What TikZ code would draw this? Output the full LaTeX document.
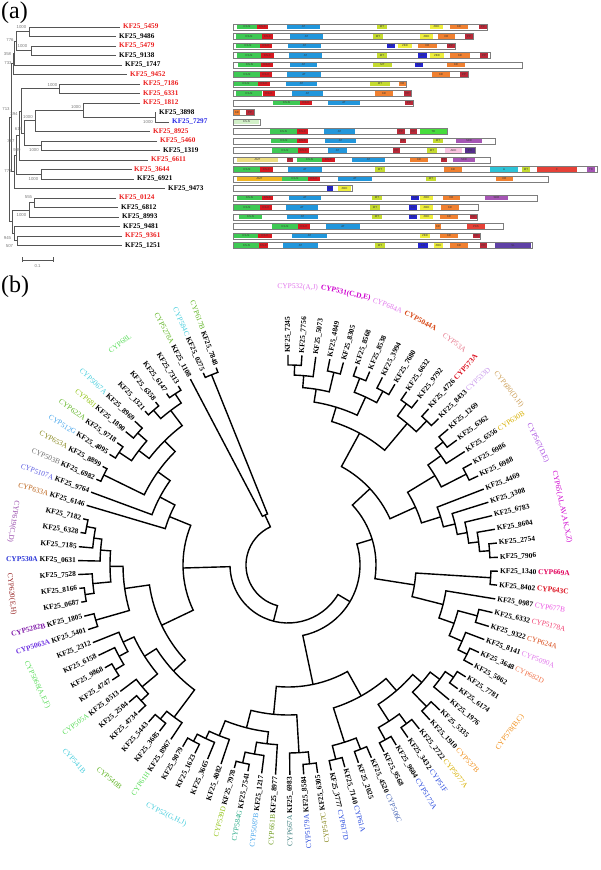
\documentclass[tikz,border=0pt]{standalone}
\usepackage{fontspec}
\setmainfont{Liberation Serif}
\newfontfamily\numfont{Liberation Sans}
\usepackage{xcolor}
% panel (a)
\definecolor{ARed}{RGB}{235,30,30}
\definecolor{ABlue}{RGB}{40,40,230}
\definecolor{TreeGray}{RGB}{85,85,85}
\definecolor{BootGray}{RGB}{120,120,120}
\definecolor{BarGray}{RGB}{125,125,125}
\definecolor{KSN}{RGB}{62,201,84}
\definecolor{KSC}{RGB}{214,24,32}
\definecolor{ATd}{RGB}{33,150,219}
\definecolor{MTd}{RGB}{197,219,47}
\definecolor{ZBD}{RGB}{238,238,60}
\definecolor{KRd}{RGB}{240,128,48}
\definecolor{PPd}{RGB}{185,40,55}
\definecolor{AOd}{RGB}{35,35,205}
\definecolor{PUd}{RGB}{165,85,180}
\definecolor{AMTa}{RGB}{238,222,130}
\definecolor{AMTb}{RGB}{240,180,35}
\definecolor{COX}{RGB}{210,240,200}
\definecolor{GRd}{RGB}{70,220,60}
\definecolor{ADH}{RGB}{250,195,225}
\definecolor{DPU}{RGB}{85,45,140}
\definecolor{CYd}{RGB}{45,195,215}
\definecolor{RDd}{RGB}{230,65,55}
\definecolor{SLd}{RGB}{95,65,165}
% panel (b)
\definecolor{cPinkV}{RGB}{225,120,235}
\definecolor{cMag}{RGB}{205,0,205}
\definecolor{cOrRed}{RGB}{215,70,20}
\definecolor{cRose}{RGB}{230,120,140}
\definecolor{cRed}{RGB}{220,15,30}
\definecolor{cLilac}{RGB}{200,150,235}
\definecolor{cTan}{RGB}{205,160,90}
\definecolor{cGold}{RGB}{215,175,0}
\definecolor{cPurp}{RGB}{170,80,225}
\definecolor{cCrim}{RGB}{225,0,90}
\definecolor{cPink}{RGB}{235,80,225}
\definecolor{cPkRed}{RGB}{240,60,110}
\definecolor{cSalm}{RGB}{240,115,75}
\definecolor{cOrange}{RGB}{240,140,20}
\definecolor{cBlue}{RGB}{35,70,220}
\definecolor{cSteel}{RGB}{70,100,180}
\definecolor{cOlive}{RGB}{135,135,30}
\definecolor{cTeal}{RGB}{60,125,125}
\definecolor{cOlGr}{RGB}{110,155,30}
\definecolor{cLBlue}{RGB}{70,165,235}
\definecolor{cTealG}{RGB}{40,170,135}
\definecolor{cYGr}{RGB}{145,195,20}
\definecolor{cCyan}{RGB}{70,205,220}
\definecolor{cLGreen}{RGB}{90,220,90}
\definecolor{cGreen}{RGB}{95,180,35}
\definecolor{cViol}{RGB}{110,50,225}
\definecolor{cDPurp}{RGB}{130,30,170}
\definecolor{cDRed}{RGB}{150,35,35}
\definecolor{cBlueB}{RGB}{40,50,215}
\definecolor{cPlum}{RGB}{150,70,170}
\definecolor{cBrown}{RGB}{185,95,20}
\definecolor{cBViol}{RGB}{90,90,225}
\definecolor{cGray}{RGB}{110,110,110}
\usepackage{tikz}

\tikzset{
  treea/.style={draw=TreeGray, line width=0.6pt},
  treeb/.style={draw=black, line width=1.4pt},
  boot/.style={font=\numfont\fontsize{4.3}{5}\selectfont, text=BootGray, inner sep=0pt},
  leafa/.style={font=\bfseries\fontsize{7.2}{8}\selectfont, anchor=west, inner sep=0pt},
  leaf/.style={font=\fontsize{7.4}{8}\selectfont, inner sep=0pt},
  grp/.style={font=\fontsize{7.4}{8}\selectfont, inner sep=0pt},
  protein/.style={draw=BarGray, fill=white, line width=0.9pt},
  domtxt/.style={font=\numfont\fontsize{2.8}{3}\selectfont, text=black!80, inner sep=0pt},
  panel/.style={font=\fontsize{24}{24}\selectfont, anchor=west, inner sep=0pt}
}

\newcounter{dm}
\newcommand{\protbar}[2]{\draw[protein] (233,#2-3) rectangle (#1,#2+3);}
\newcommand{\dom}[5]{\stepcounter{dm}\fill[#4] (#1,#3-2.4) rectangle (#2,#3+2.4);
  \node[domtxt] (dm\arabic{dm}) at ({(#1+#2)/2},#3) {#5};}
\newcommand{\clade}[5]{\draw[treeb] (#1:#4pt) -- (#1:#3pt) arc[start angle=#1, end angle=#2, radius=#3pt] -- (#2:#5pt);}
\newcommand{\leafR}[4]{\node[leaf, anchor=west, rotate=#1] (k#2) at (#1:212pt) {\textbf{KF25\_#2}\ \textcolor{#4}{#3}};}
\newcommand{\leafL}[4]{\node[leaf, anchor=east, rotate=#1+180] (k#2) at (#1:212pt) {\textcolor{#4}{#3}\ \textbf{KF25\_#2}};}

\begin{document}
\begin{tikzpicture}[x=1pt, y=1pt]
	\useasboundingbox (0,0) rectangle (600,870);

	\begin{scope}[yshift=870pt, y=-1pt]
		% Panel labels
		\node[panel] (pa) at (1,13) {(a)};
		\node[panel] (pb) at (1,287) {(b)};

		% Lines
		\draw[treea] (120,27) -- (29,27) -- (29,36.5) -- (116,36.5);
		\draw[treea] (116,46) -- (31,46) -- (31,55.5) -- (116,55.5);
		\draw[treea] (29,31.75) -- (16,31.75) -- (16,50.75) -- (31,50.75);
		\draw[treea] (16,41.25) -- (14.5,41.25) -- (14.5,65) -- (122,65);
		\draw[treea] (14.5,53.1) -- (13,53.1) -- (13,74.5) -- (127,74.5);
		\draw[treea] (140,84) -- (59,84) -- (59,93.5) -- (140,93.5);
		\draw[treea] (156,112.5) -- (155,112.5) -- (155,122) -- (169,122);
		\draw[treea] (140,103) -- (83,103) -- (83,117.25) -- (155,117.25);
		\draw[treea] (83,110.1) -- (35,110.1) -- (35,131.5) -- (150,131.5);
		\draw[treea] (157,141) -- (41,141) -- (41,150.5) -- (160,150.5);
		\draw[treea] (35,120.8) -- (24,120.8) -- (24,145.75) -- (41,145.75);
		\draw[treea] (59,88.75) -- (21,88.75) -- (21,133.3) -- (24,133.3);
		\draw[treea] (21,111) -- (19,111) -- (19,160) -- (148,160);
		\draw[treea] (132,169.5) -- (41,169.5) -- (41,179) -- (134,179);
		\draw[treea] (19,135.5) -- (16,135.5) -- (16,174.25) -- (41,174.25);
		\draw[treea] (16,154.9) -- (14,154.9) -- (14,188.5) -- (165,188.5);
		\draw[treea] (13,63.8) -- (11,63.8) -- (11,171.7) -- (14,171.7);
		\draw[treea] (116,198) -- (34,198) -- (34,207.5) -- (118,207.5);
		\draw[treea] (34,202.75) -- (29,202.75) -- (29,217) -- (119,217);
		\draw[treea] (122,236) -- (17,236) -- (17,245.5) -- (122,245.5);
		\draw[treea] (120,226.5) -- (14,226.5) -- (14,240.75) -- (17,240.75);
		\draw[treea] (29,209.9) -- (12,209.9) -- (12,233.6) -- (14,233.6);
		\draw[treea] (11,117.75) -- (9,117.75) -- (9,221.75) -- (12,221.75);

		% Bootstrap
		\node[boot] (b1) at (21.5,27) {1000};
		\node[boot] (b2) at (22.5,46) {1000};
		\node[boot] (b3) at (10,40.5) {776};
		\node[boot] (b4) at (7.5,54) {358};
		\node[boot] (b5) at (8,63) {733};
		\node[boot] (b6) at (52.5,85) {1000};
		\node[boot] (b7) at (148,122) {1000};
		\node[boot] (b8) at (76,107) {1000};
		\node[boot] (b9) at (28,117) {1000};
		\node[boot] (b10) at (34,150.5) {1000};
		\node[boot] (b11) at (18.5,129) {614};
		\node[boot] (b12) at (14,114) {394};
		\node[boot] (b13) at (6,109.5) {713};
		\node[boot] (b14) at (11,141) {387};
		\node[boot] (b15) at (17,150.5) {989};
		\node[boot] (b16) at (8,171) {771};
		\node[boot] (b17) at (33.5,179) {1000};
		\node[boot] (b18) at (28.5,197.5) {555};
		\node[boot] (b19) at (21.5,215) {1000};
		\node[boot] (b20) at (7.5,238.5) {945};
		\node[boot] (b21) at (9.5,246) {507};

		% Scale
		\draw[treea] (22,260) -- (53,260);
		\draw[treea] (22,257.5) -- (22,262.5);
		\draw[treea] (53,257.5) -- (53,262.5);
		\node[boot] (sc) at (37.5,266.5) {0.1};

		% Text
		\node[leafa, text=ARed] (a5459) at (123,27) {KF25\_5459};
		\node[leafa] (a9486) at (119,36.5) {KF25\_9486};
		\node[leafa, text=ARed] (a5479) at (119,46) {KF25\_5479};
		\node[leafa] (a9138) at (119,55.5) {KF25\_9138};
		\node[leafa] (a1747) at (125,65) {KF25\_1747};
		\node[leafa, text=ARed] (a9452) at (130,74.5) {KF25\_9452};
		\node[leafa, text=ARed] (a7186) at (143,84) {KF25\_7186};
		\node[leafa, text=ARed] (a6331) at (143,93.5) {KF25\_6331};
		\node[leafa, text=ARed] (a1812) at (143,103) {KF25\_1812};
		\node[leafa] (a3898) at (159,112.5) {KF25\_3898};
		\node[leafa, text=ABlue] (a7297) at (172,122) {KF25\_7297};
		\node[leafa, text=ARed] (a8925) at (153,131.5) {KF25\_8925};
		\node[leafa, text=ARed] (a5460) at (160,141) {KF25\_5460};
		\node[leafa] (a1319) at (163,150.5) {KF25\_1319};
		\node[leafa, text=ARed] (a6611) at (151,160) {KF25\_6611};
		\node[leafa, text=ARed] (a3644) at (134,169.5) {KF25\_3644};
		\node[leafa] (a6921) at (137,179) {KF25\_6921};
		\node[leafa] (a9473) at (168,188.5) {KF25\_9473};
		\node[leafa, text=ARed] (a0124) at (119,198) {KF25\_0124};
		\node[leafa] (a6812) at (121,207.5) {KF25\_6812};
		\node[leafa] (a8993) at (122,217) {KF25\_8993};
		\node[leafa] (a9481) at (123,226.5) {KF25\_9481};
		\node[leafa, text=ARed] (a9361) at (125,236) {KF25\_9361};
		\node[leafa] (a1251) at (125,245.5) {KF25\_1251};

		% Rectangle
		\protbar{487}{27}
		\dom{237}{257}{27}{KSN}{KS-N} \dom{257}{268}{27}{KSC}{KS-C} \dom{287}{320}{27}{ATd}{AT}
		\dom{377}{387}{27}{MTd}{MT} \dom{430}{443}{27}{ZBD}{ZBD} \dom{450}{468}{27}{KRd}{KR} \dom{479}{487}{27}{PPd}{PP}
		\protbar{473}{36.5}
		\dom{236}{262}{36.5}{KSN}{KS-N} \dom{262}{273}{36.5}{KSC}{KS-C} \dom{290}{323}{36.5}{ATd}{AT}
		\dom{373}{383}{36.5}{MTd}{MT} \dom{420}{433}{36.5}{ZBD}{ZBD} \dom{438}{455}{36.5}{KRd}{KR} \dom{465}{473}{36.5}{PPd}{PP}
		\protbar{455}{46}
		\dom{236}{260}{46}{KSN}{KS-N} \dom{260}{272}{46}{KSC}{KS-C} \dom{288}{321}{46}{ATd}{AT}
		\dom{387}{395}{46}{AOd}{AO} \dom{398}{412}{46}{ZBD}{ZBD} \dom{418}{437}{46}{KRd}{KR} \dom{447}{455}{46}{PPd}{PP}
		\protbar{490}{55.5}
		\dom{237}{261}{55.5}{KSN}{KS-N} \dom{261}{274}{55.5}{KSC}{KS-C} \dom{289}{322}{55.5}{ATd}{AT}
		\dom{377}{387}{55.5}{MTd}{MT} \dom{418}{427}{55.5}{AOd}{AO} \dom{430}{444}{55.5}{ZBD}{ZBD}
		\dom{450}{470}{55.5}{KRd}{KR} \dom{480}{488}{55.5}{PPd}{PP}
		\protbar{522}{65}
		\dom{238}{261}{65}{KSN}{KS-N} \dom{261}{273}{65}{KSC}{KS-C} \dom{290}{317}{65}{ATd}{AT}
		\dom{373}{392}{65}{MTd}{MT} \dom{415}{423}{65}{AOd}{AO} \dom{447}{465}{65}{KRd}{KR}
		\protbar{468}{74.5}
		\dom{234}{260}{74.5}{KSN}{KS-N} \dom{260}{272}{74.5}{KSC}{KS-C} \dom{287}{321}{74.5}{ATd}{AT}
		\dom{432}{450}{74.5}{KRd}{KR} \dom{460}{468}{74.5}{PPd}{PP}
		\protbar{406}{84}
		\dom{234}{258}{84}{KSN}{KS-N} \dom{258}{270}{84}{KSC}{KS-C} \dom{286}{317}{84}{ATd}{AT}
		\dom{370}{390}{84}{MTd}{MT} \dom{399}{406}{84}{KRd}{KR}
		\protbar{411}{93.5}
		\dom{236}{262}{93.5}{KSN}{KS-N} \dom{263}{275}{93.5}{KSC}{KS-C} \dom{292}{323}{93.5}{ATd}{AT}
		\dom{375}{393}{93.5}{KRd}{KR} \dom{404}{411}{93.5}{PPd}{PP}
		\protbar{413}{103}
		\dom{273}{300}{103}{KSN}{KS-N} \dom{300}{312}{103}{KSC}{KS-C} \dom{328}{360}{103}{ATd}{AT}
		\dom{405}{413}{103}{PPd}{PP}
		\protbar{254}{112.5}
		\dom{234}{240}{112.5}{KRd}{KR} \dom{246}{254}{112.5}{PPd}{PP}
		\protbar{260}{122}
		\dom{234}{259}{122}{COX}{KS-N}
		\protbar{447}{131.5}
		\dom{270}{297}{131.5}{KSN}{KS-N} \dom{297}{308}{131.5}{KSC}{KS-C} \dom{324}{355}{131.5}{ATd}{AT}
		\dom{397}{405}{131.5}{PPd}{PP} \dom{410}{417}{131.5}{PPd}{PP} \dom{420}{447}{131.5}{GRd}{TE}
		\protbar{495}{141}
		\dom{271}{297}{141}{KSN}{KS-N} \dom{297}{308}{141}{KSC}{KS-C} \dom{325}{356}{141}{ATd}{AT}
		\dom{400}{406}{141}{PPd}{PP} \dom{433}{443}{141}{MTd}{MT} \dom{456}{482}{141}{PUd}{SDR}
		\protbar{475}{150.5}
		\dom{272}{298}{150.5}{KSN}{KS-N} \dom{298}{309}{150.5}{KSC}{KS-C} \dom{328}{347}{150.5}{ATd}{AT}
		\dom{393}{400}{150.5}{PPd}{PP} \dom{427}{437}{150.5}{MTd}{MT} \dom{445}{462}{150.5}{ADH}{ADH}
		\dom{465}{475}{150.5}{DPU}{PO}
		\protbar{490}{160}
		\dom{237}{278}{160}{AMTa}{AMT} \dom{287}{293}{160}{PPd}{PP} \dom{297}{322}{160}{KSN}{KS-N}
		\dom{322}{335}{160}{KSC}{KS-C} \dom{352}{385}{160}{ATd}{AT} \dom{410}{428}{160}{KRd}{KR}
		\dom{441}{447}{160}{PPd}{PP} \dom{453}{475}{160}{PUd}{SDR}
		\protbar{597}{169.5}
		\dom{234}{260}{169.5}{KSN}{KS-N} \dom{260}{273}{169.5}{KSC}{KS-C} \dom{288}{322}{169.5}{ATd}{AT}
		\dom{375}{385}{169.5}{MTd}{MT} \dom{444}{462}{169.5}{KRd}{KR} \dom{490}{518}{169.5}{CYd}{A}
		\dom{522}{530}{169.5}{MTd}{MT} \dom{537}{577}{169.5}{RDd}{C} \dom{587}{595}{169.5}{PUd}{TD}
		\protbar{548}{179}
		\dom{237}{282}{179}{AMTb}{AMT} \dom{282}{308}{179}{KSN}{KS-N} \dom{308}{320}{179}{KSC}{KS-C}
		\dom{338}{372}{179}{ATd}{AT} \dom{426}{436}{179}{MTd}{MT} \dom{496}{513}{179}{KRd}{KR}
		\protbar{352}{188.5}
		\dom{327}{333}{188.5}{AOd}{AO} \dom{338}{351}{188.5}{ZBD}{ZBD}
		\protbar{537}{198}
		\dom{237}{262}{198}{KSN}{KS-N} \dom{262}{273}{198}{KSC}{KS-C} \dom{289}{321}{198}{ATd}{AT}
		\dom{372}{382}{198}{MTd}{MT} \dom{411}{419}{198}{AOd}{AO} \dom{420}{433}{198}{ZBD}{ZBD}
		\dom{443}{460}{198}{KRd}{KR} \dom{485}{508}{198}{PUd}{SDR}
		\protbar{478}{207.5}
		\dom{234}{260}{207.5}{KSN}{KS-N} \dom{260}{272}{207.5}{KSC}{KS-C} \dom{286}{318}{207.5}{ATd}{AT}
		\dom{370}{380}{207.5}{MTd}{MT} \dom{409}{417}{207.5}{AOd}{AO} \dom{420}{433}{207.5}{ZBD}{ZBD}
		\dom{441}{459}{207.5}{KRd}{KR}
		\protbar{477}{217}
		\dom{239}{262}{217}{KSN}{KS-N} \dom{287}{318}{217}{ATd}{AT} \dom{372}{382}{217}{MTd}{MT}
		\dom{409}{417}{217}{AOd}{AO} \dom{420}{433}{217}{ZBD}{ZBD} \dom{440}{458}{217}{KRd}{KR}
		\dom{470}{477}{217}{PPd}{PP}
		\protbar{503}{226.5}
		\dom{272}{298}{226.5}{KSN}{KS-N} \dom{298}{310}{226.5}{KSC}{KS-C} \dom{326}{360}{226.5}{ATd}{AT}
		\dom{435}{441}{226.5}{KRd}{KR} \dom{467}{485}{226.5}{RDd}{PKS}
		\protbar{480}{236}
		\dom{234}{258}{236}{KSN}{KS-N} \dom{258}{272}{236}{KSC}{KS-C} \dom{292}{327}{236}{ATd}{AT}
		\dom{420}{430}{236}{ZBD}{ZBD} \dom{440}{458}{236}{KRd}{KR} \dom{473}{480}{236}{PPd}{PP}
		\protbar{532}{245.5}
		\dom{234}{259}{245.5}{KSN}{KS-N} \dom{259}{268}{245.5}{KSC}{KS-C} \dom{283}{318}{245.5}{ATd}{AT}
		\dom{375}{385}{245.5}{MTd}{MT} \dom{418}{428}{245.5}{AOd}{AO} \dom{434}{443}{245.5}{ZBD}{ZBD}
		\dom{450}{468}{245.5}{KRd}{KR} \dom{480}{487}{245.5}{PPd}{PP} \dom{495}{531}{245.5}{SLd}{SL}
	\end{scope}

	\begin{scope}[shift={(288pt,305pt)}]
		% Lines
		\clade{90.0}{86.2}{200}{210}{210}
		\clade{88.1}{82.4}{190}{200}{210}
		\clade{78.5}{74.7}{198}{210}{210}
		\clade{85.25}{76.6}{178}{190}{198}
		\clade{70.9}{67.1}{200}{210}{210}
		\clade{63.3}{59.4}{198}{210}{210}
		\clade{69.0}{61.35}{185}{200}{198}
		\clade{80.9}{65.2}{165}{178}{185}
		\clade{55.6}{51.8}{200}{210}{210}
		\clade{48.0}{44.2}{200}{210}{210}
		\clade{53.7}{46.1}{185}{200}{200}
		\clade{73.05}{49.9}{150}{165}{185}
		\clade{40.3}{36.5}{198}{210}{210}
		\clade{38.4}{32.7}{188}{198}{210}
		\clade{28.9}{25.1}{200}{210}{210}
		\clade{35.55}{27.0}{172}{188}{200}
		\clade{6.0}{2.1}{202}{210}{210}
		\clade{9.8}{4.05}{192}{210}{202}
		\clade{13.6}{6.9}{182}{210}{192}
		\clade{17.4}{10.25}{172}{210}{182}
		\clade{21.2}{13.8}{160}{210}{172}
		\clade{31.3}{17.5}{140}{172}{160}
		\clade{61.5}{24.4}{112}{150}{140}
		\clade{-1.7}{-5.5}{203}{210}{210}
		\clade{-13.1}{-17.0}{196}{210}{210}
		\clade{-24.6}{-28.4}{200}{210}{210}
		\clade{-20.8}{-26.5}{190}{210}{200}
		\clade{-15.05}{-23.65}{176}{196}{190}
		\clade{-9.3}{-19.35}{160}{210}{176}
		\clade{-3.6}{-14.3}{128}{203}{160}
		\clade{-32.2}{-36.1}{200}{210}{210}
		\clade{-34.15}{-39.9}{190}{200}{210}
		\clade{-43.7}{-47.5}{198}{210}{210}
		\clade{-37.0}{-45.6}{178}{190}{198}
		\clade{-51.3}{-55.2}{198}{210}{210}
		\clade{-59.0}{-62.8}{200}{210}{210}
		\clade{-53.25}{-60.9}{186}{198}{200}
		\clade{-41.3}{-57.1}{166}{178}{186}
		\clade{-66.6}{-70.4}{198}{210}{210}
		\clade{-74.3}{-78.1}{200}{210}{210}
		\clade{-68.5}{-76.2}{186}{198}{200}
		\clade{-49.2}{-72.35}{150}{166}{186}
		\clade{-81.9}{-85.7}{200}{210}{210}
		\clade{-83.8}{-89.5}{188}{200}{210}
		\clade{-101.0}{-104.8}{203}{210}{210}
		\clade{-97.2}{-102.9}{192}{210}{203}
		\clade{-93.4}{-100.05}{180}{210}{192}
		\clade{-116.3}{-120.1}{200}{210}{210}
		\clade{-112.5}{-118.2}{192}{210}{200}
		\clade{-108.6}{-115.35}{184}{210}{192}
		\clade{-96.7}{-111.95}{168}{180}{184}
		\clade{-86.65}{-104.3}{150}{188}{168}
		\clade{-60.8}{-95.5}{122}{150}{150}
		\clade{-127.7}{-131.6}{200}{210}{210}
		\clade{-123.9}{-129.65}{190}{210}{200}
		\clade{-135.4}{-139.2}{200}{210}{210}
		\clade{-137.3}{-143.0}{190}{200}{210}
		\clade{-146.8}{-150.7}{202}{210}{210}
		\clade{-148.75}{-154.5}{192}{202}{210}
		\clade{-151.6}{-158.3}{182}{192}{210}
		\clade{-140.15}{-154.95}{170}{190}{182}
		\clade{-126.8}{-147.55}{156}{190}{170}
		\clade{-162.1}{-165.9}{200}{210}{210}
		\clade{-169.8}{-173.6}{205}{210}{210}
		\clade{-171.7}{-177.4}{196}{205}{210}
		\clade{-188.9}{-192.7}{205}{210}{210}
		\clade{-185.0}{-190.8}{196}{210}{205}
		\clade{-181.2}{-187.9}{188}{210}{196}
		\clade{-174.55}{-184.55}{178}{196}{188}
		\clade{-164.0}{-179.55}{165}{200}{178}
		\clade{-137.2}{-171.8}{140}{156}{165}
		\clade{-204.1}{-208.0}{205}{210}{210}
		\clade{-211.8}{-215.6}{203}{210}{210}
		\clade{-219.4}{-223.2}{200}{210}{210}
		\clade{-213.7}{-221.3}{188}{203}{200}
		\clade{-227.1}{-230.9}{205}{210}{210}
		\clade{-234.7}{-238.5}{205}{210}{210}
		\clade{-229.0}{-236.6}{194}{205}{205}
		\clade{-217.5}{-232.8}{175}{188}{194}
		\clade{-206.05}{-225.15}{160}{205}{175}
		\clade{-200.3}{-215.6}{145}{210}{160}
		\clade{-196.5}{-207.95}{128}{210}{145}
		\clade{-154.5}{-202.2}{105}{140}{128}
		\clade{-246.2}{-250.0}{205}{210}{210}
		\clade{-242.3}{-248.1}{55}{210}{205}
		\clade{42.95}{-8.95}{88}{112}{128}
		\clade{17.0}{-78.15}{72}{88}{122}
		\clade{-30.6}{-178.35}{58}{72}{105}
		\clade{-104.5}{-245.2}{42}{58}{55}

		% Text
		\leafR{90.0}{7245}{}{black}
		\leafR{86.2}{7756}{}{black}
		\leafR{82.4}{5073}{}{black}
		\leafR{78.5}{4849}{}{black}
		\leafR{74.7}{8305}{}{black}
		\leafR{70.9}{8568}{}{black}
		\leafR{67.1}{8538}{}{black}
		\leafR{63.3}{3994}{}{black}
		\leafR{59.4}{7680}{}{black}
		\leafR{55.6}{6632}{}{black}
		\leafR{51.8}{9792}{}{black}
		\leafR{48.0}{4726}{\textbf{CYP573A}}{cRed}
		\leafR{44.2}{8433}{CYP533D}{cLilac}
		\leafR{40.3}{1269}{}{black}
		\leafR{36.5}{6362}{}{black}
		\leafR{32.7}{6556}{CYP630B}{cGold}
		\leafR{28.9}{6986}{}{black}
		\leafR{25.1}{6988}{}{black}
		\leafR{21.2}{4469}{}{black}
		\leafR{17.4}{3308}{}{black}
		\leafR{13.6}{6783}{}{black}
		\leafR{9.8}{8604}{}{black}
		\leafR{6.0}{2754}{}{black}
		\leafR{2.1}{7906}{}{black}
		\leafR{-1.7}{1340}{\textbf{CYP669A}}{cCrim}
		\leafR{-5.5}{8402}{\textbf{CYP643C}}{cRed}
		\leafR{-9.3}{0987}{CYP677B}{cPink}
		\leafR{-13.1}{6332}{CYP5178A}{cPkRed}
		\leafR{-17.0}{9322}{CYP624A}{cOrRed}
		\leafR{-20.8}{8141}{CYP5090A}{cPinkV}
		\leafR{-24.6}{3648}{CYP682D}{cSalm}
		\leafR{-28.4}{5062}{}{black}
		\leafR{-32.2}{7781}{}{black}
		\leafR{-36.1}{6174}{}{black}
		\leafR{-39.9}{1976}{}{black}
		\leafR{-43.7}{5335}{}{black}
		\leafR{-47.5}{1910}{CYP537B}{cOrange}
		\leafR{-51.3}{2722}{CYP5077A}{cGold}
		\leafR{-55.2}{3432}{CYP51F}{cBlue}
		\leafR{-59.0}{9604}{CYP5173A}{cBlue}
		\leafR{-62.8}{9568}{}{black}
		\leafR{-66.6}{4520}{CYP506C}{cSteel}
		\leafR{-70.4}{2025}{}{black}
		\leafR{-74.3}{7140}{CYP61A}{cBlue}
		\leafR{-78.1}{3777}{CYP617D}{cBlue}
		\leafL{-81.9}{6305}{CYP547C}{cOlive}
		\leafL{-85.7}{8584}{CYP5179A}{cBlue}
		\leafL{-89.5}{6983}{CYP667A}{cTeal}
		\leafL{-93.4}{8977}{CYP661B}{cOlGr}
		\leafL{-97.2}{1217}{CYP5087B}{cLBlue}
		\leafL{-101.0}{7541}{CYP584G}{cTealG}
		\leafL{-104.8}{7978}{CYP539D}{cYGr}
		\leafL{-108.6}{4082}{}{black}
		\leafL{-112.5}{3665}{}{black}
		\leafL{-116.3}{1623}{}{black}
		\leafL{-120.1}{9079}{}{black}
		\leafL{-123.9}{8967}{CYP61H}{cLGreen}
		\leafL{-127.7}{3685}{}{black}
		\leafL{-131.6}{5443}{}{black}
		\leafL{-135.4}{4734}{}{black}
		\leafL{-139.2}{2504}{}{black}
		\leafL{-143.0}{0513}{CYP505A}{cLGreen}
		\leafL{-146.8}{4747}{}{black}
		\leafL{-150.7}{9868}{}{black}
		\leafL{-154.5}{6158}{}{black}
		\leafL{-158.3}{2312}{}{black}
		\leafL{-162.1}{5401}{\textbf{CYP5063A}}{cViol}
		\leafL{-165.9}{1805}{\textbf{CYP5282B}}{cDPurp}
		\leafL{-169.8}{0687}{}{black}
		\leafL{-173.6}{8166}{}{black}
		\leafL{-177.4}{7528}{}{black}
		\leafL{-181.2}{0631}{\textbf{CYP530A}}{cBlueB}
		\leafL{-185.0}{7185}{}{black}
		\leafL{-188.9}{6328}{}{black}
		\leafL{-192.7}{7182}{}{black}
		\leafL{-196.5}{6146}{CYP633A}{cBrown}
		\leafL{-200.3}{9764}{CYP5107A}{cBViol}
		\leafL{-204.1}{6982}{CYP503B}{cGray}
		\leafL{-208.0}{8899}{CYP653A}{cOlive}
		\leafL{-211.8}{4095}{CYP512G}{cLBlue}
		\leafL{-215.6}{9718}{CYP622A}{cGreen}
		\leafL{-219.4}{1890}{CYP68I}{cYGr}
		\leafL{-223.2}{8969}{CYP5067A}{cCyan}
		\leafL{-227.1}{1321}{}{black}
		\leafL{-230.9}{6358}{}{black}
		\leafL{-234.7}{6147}{}{black}
		\leafL{-238.5}{7313}{}{black}
		\leafL{-242.3}{1108}{CYP5278A}{cGreen}
		\leafL{-246.2}{0275}{CYP584C}{cCyan}
		\leafL{-250.0}{7848}{CYP617B}{cGreen}

		% Families
		\node[grp, text=cPinkV, rotate=-2] (g532) at (88:278pt) {CYP532(A,J)};
		\node[grp, text=cMag, rotate=-12] (g531) at (78:278pt) {\textbf{CYP531(C,D,E)}};
		\node[grp, text=cPinkV, rotate=-21] (g684) at (69:278pt) {CYP684A};
		\node[grp, text=cOrRed, rotate=-28.5] (g5044) at (61.5:278pt) {\textbf{CYP5044A}};
		\node[grp, text=cRose, rotate=-36.8] (g53) at (53.2:278pt) {CYP53A};
		\node[grp, text=cTan, rotate=-51.5] (g680) at (38.5:282pt) {CYP680(D,H)};
		\node[grp, text=cPurp, rotate=-64] (g567) at (26:278pt) {CYP567(D,E)};
		\node[grp, text=cMag, rotate=-78] (g65) at (12:280pt) {CYP65(AL,AV,AK,X,Z)};
		\node[grp, text=cOrange, rotate=53] (g578) at (-37:278pt) {CYP578(B,C)};
		\node[grp, text=cCyan, rotate=-26] (g52) at (-116:278pt) {CYP52(G,H,J)};
		\node[grp, text=cGreen, rotate=-40] (g540) at (-130:278pt) {CYP540B};
		\node[grp, text=cCyan, rotate=-47.5] (g541) at (-137.5:290pt) {CYP541B};
		\node[grp, text=cLGreen, rotate=-64.5] (g5068) at (-154.5:278pt) {CYP5068(A,E,F)};
		\node[grp, text=cDRed, rotate=-84] (g620) at (-174:278pt) {CYP620(E,H)};
		\node[grp, text=cPlum, rotate=-99] (g619) at (-189:278pt) {CYP619(C,D)};
		\node[grp, text=cLGreen, rotate=37] (g68) at (-232.8:278pt) {CYP68L};
	\end{scope}
\end{tikzpicture}
\end{document}
